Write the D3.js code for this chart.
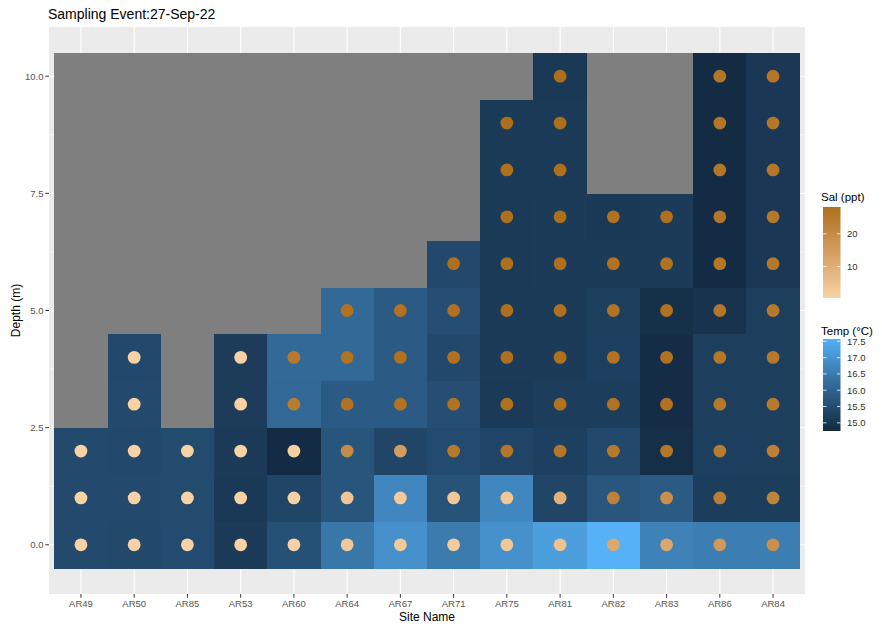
<!DOCTYPE html>
<html>
<head>
<meta charset="utf-8">
<script src="https://cdn.jsdelivr.net/npm/d3@7"></script>
<style>
  html, body { margin: 0; padding: 0; background: #ffffff; }
  svg { display: block; font-family: "Liberation Sans", Arial, Helvetica, sans-serif; }
</style>
</head>
<body>
<svg id="chart" width="882" height="628"></svg>
<script>
// ---- data ----
const sites = ["AR49","AR50","AR85","AR53","AR60","AR64","AR67","AR71","AR75","AR81","AR82","AR83","AR86","AR84"];
const yTicks = [0, 2.5, 5, 7.5, 10];
const yMinor = [1.25, 3.75, 6.25, 8.75];
const maxDepth = 10;

// Temperature (°C) by depth 0,1,2,... for each site
const temp_AR49 = [15.47, 15.47, 15.47];
const temp_AR50 = [15.42, 15.47, 15.44, 15.47, 15.45];
const temp_AR85 = [15.50, 15.48, 15.48];
const temp_AR53 = [15.12, 15.08, 15.12, 15.15, 15.15];
const temp_AR60 = [15.62, 15.36, 14.76, 16.12, 16.13];
const temp_AR64 = [16.42, 15.72, 15.70, 15.84, 16.13, 16.13];
const temp_AR67 = [16.94, 16.74, 15.35, 15.84, 15.84, 15.84];
const temp_AR71 = [16.50, 15.66, 15.50, 15.55, 15.45, 15.55, 15.45];
const temp_AR75 = [16.95, 16.76, 15.35, 15.11, 15.13, 15.13, 15.11, 15.11, 15.11, 15.11];
const temp_AR81 = [17.20, 15.36, 15.25, 15.18, 15.13, 15.13, 15.12, 15.12, 15.11, 15.11, 15.08];
const temp_AR82 = [17.57, 15.74, 15.45, 15.18, 15.23, 15.22, 15.12, 15.08];
const temp_AR83 = [16.64, 15.82, 14.84, 14.78, 14.78, 14.86, 15.13, 15.12];
const temp_AR86 = [16.56, 15.18, 15.23, 15.21, 15.21, 14.95, 14.76, 14.76, 14.76, 14.75, 14.75];
const temp_AR84 = [16.56, 15.18, 15.21, 15.21, 15.21, 15.21, 15.07, 15.07, 15.07, 15.07, 15.06];

// Salinity (ppt) by depth 0,1,2,... for each site
const sal_AR49 = [0.5, 0.5, 0.6];
const sal_AR50 = [0.5, 0.5, 0.6, 0.6, 0.7];
const sal_AR85 = [0.5, 0.5, 0.6];
const sal_AR53 = [0.4, 0.5, 0.5, 0.6, 0.6];
const sal_AR60 = [0.8, 0.9, 1.0, 24.5, 25.0];
const sal_AR64 = [3.2, 3.6, 20.0, 27.0, 27.2, 27.3];
const sal_AR67 = [2.4, 2.6, 15.0, 27.0, 27.4, 27.3];
const sal_AR71 = [2.3, 3.4, 25.0, 27.3, 27.5, 27.5, 27.8];
const sal_AR75 = [3.4, 3.4, 26.0, 27.6, 27.8, 27.8, 27.9, 28.0, 28.0, 28.1];
const sal_AR81 = [4.6, 9.4, 26.0, 27.3, 27.6, 27.7, 27.8, 27.9, 28.0, 28.1, 28.2];
const sal_AR82 = [11.8, 23.0, 25.0, 27.0, 27.2, 27.3, 27.3, 27.5];
const sal_AR83 = [12.0, 18.7, 26.2, 27.2, 27.4, 27.5, 27.5, 27.6];
const sal_AR86 = [16.0, 24.0, 24.5, 25.5, 25.8, 26.0, 26.2, 26.3, 26.4, 26.5, 26.5];
const sal_AR84 = [18.7, 22.5, 23.5, 25.0, 25.3, 25.5, 25.7, 25.9, 26.0, 26.1, 26.2];

const tempSeries = [temp_AR49, temp_AR50, temp_AR85, temp_AR53, temp_AR60, temp_AR64, temp_AR67,
                    temp_AR71, temp_AR75, temp_AR81, temp_AR82, temp_AR83, temp_AR86, temp_AR84];
const salSeries  = [sal_AR49, sal_AR50, sal_AR85, sal_AR53, sal_AR60, sal_AR64, sal_AR67,
                    sal_AR71, sal_AR75, sal_AR81, sal_AR82, sal_AR83, sal_AR86, sal_AR84];

// Long table: every site x depth 0..10 (NA where not sampled)
const rows = [];
sites.forEach((s, i) => {
  for (let d = 0; d <= maxDepth; d++) {
    rows.push({
      site: s, depth: d,
      temp: d < tempSeries[i].length ? tempSeries[i][d] : null,
      sal: d < salSeries[i].length ? salSeries[i][d] : null
    });
  }
});

// ---- layout ----
const svg = d3.select("#chart");
const panel = { left: 49, right: 805, top: 27, bottom: 594 };

const x = d3.scaleBand().domain(sites).range([panel.left, panel.right]).paddingInner(0).paddingOuter(0.1);
const y = d3.scaleLinear().domain([-1.05, 11.05]).range([panel.bottom, panel.top]);

const tempVals = rows.filter(r => r.temp != null).map(r => r.temp);
const salVals = rows.filter(r => r.sal != null).map(r => r.sal);
const tempColor = d3.scaleLinear().domain(d3.extent(tempVals)).range(["#132B43", "#56B1F7"]).interpolate(d3.interpolateLab);
const salColor = d3.scaleLinear().domain(d3.extent(salVals)).range(["#F8D2A5", "#AE6F1C"]).interpolate(d3.interpolateLab);

// panel background
svg.append("rect").attr("x", panel.left).attr("y", panel.top)
  .attr("width", panel.right - panel.left).attr("height", panel.bottom - panel.top)
  .attr("fill", "#ebebeb");

// grid
const grid = svg.append("g");
grid.selectAll("line.minor").data(yMinor).join("line")
  .attr("x1", panel.left).attr("x2", panel.right)
  .attr("y1", d => y(d)).attr("y2", d => y(d))
  .attr("stroke", "#ffffff").attr("stroke-width", 0.6);
grid.selectAll("line.majy").data(yTicks).join("line")
  .attr("x1", panel.left).attr("x2", panel.right)
  .attr("y1", d => y(d)).attr("y2", d => y(d))
  .attr("stroke", "#ffffff").attr("stroke-width", 1.1);
grid.selectAll("line.majx").data(sites).join("line")
  .attr("x1", d => x(d) + x.bandwidth() / 2).attr("x2", d => x(d) + x.bandwidth() / 2)
  .attr("y1", panel.top).attr("y2", panel.bottom)
  .attr("stroke", "#ffffff").attr("stroke-width", 1.1);

// tiles
svg.append("g").attr("shape-rendering", "crispEdges")
  .selectAll("rect").data(rows).join("rect")
  .attr("x", d => x(d.site))
  .attr("y", d => y(d.depth + 0.5))
  .attr("width", x.bandwidth() + 0.5)
  .attr("height", d => y(d.depth - 0.5) - y(d.depth + 0.5) + 0.5)
  .attr("fill", d => d.temp == null ? "#7f7f7f" : tempColor(d.temp));

// points
svg.append("g").selectAll("circle").data(rows.filter(r => r.sal != null)).join("circle")
  .attr("cx", d => x(d.site) + x.bandwidth() / 2)
  .attr("cy", d => y(d.depth))
  .attr("r", 6.4)
  .attr("fill", d => salColor(d.sal));

// axes
const tickColor = "#333333", labColor = "#555555";
const yAxis = svg.append("g");
yAxis.selectAll("line").data(yTicks).join("line")
  .attr("x1", panel.left - 3.7).attr("x2", panel.left)
  .attr("y1", d => y(d)).attr("y2", d => y(d))
  .attr("stroke", tickColor).attr("stroke-width", 1);
yAxis.selectAll("text").data(yTicks).join("text")
  .attr("x", panel.left - 5.5).attr("y", d => y(d)).attr("dy", "0.35em")
  .attr("text-anchor", "end").attr("font-size", 9.5).attr("fill", labColor)
  .text(d3.format(".1f"));

const xAxis = svg.append("g");
xAxis.selectAll("line").data(sites).join("line")
  .attr("x1", d => x(d) + x.bandwidth() / 2).attr("x2", d => x(d) + x.bandwidth() / 2)
  .attr("y1", panel.bottom).attr("y2", panel.bottom + 3.7)
  .attr("stroke", tickColor).attr("stroke-width", 1);
xAxis.selectAll("text").data(sites).join("text")
  .attr("x", d => x(d) + x.bandwidth() / 2).attr("y", panel.bottom + 13)
  .attr("text-anchor", "middle").attr("font-size", 9.5).attr("fill", labColor)
  .text(d => d);

// titles
svg.append("text").attr("x", 48).attr("y", 19).attr("font-size", 14).attr("fill", "#000")
  .text("Sampling Event:27-Sep-22");
svg.append("text").attr("x", (panel.left + panel.right) / 2).attr("y", 621)
  .attr("text-anchor", "middle").attr("font-size", 12).attr("fill", "#000").text("Site Name");
svg.append("text").attr("transform", `translate(19.5,${(panel.top + panel.bottom) / 2}) rotate(-90)`)
  .attr("text-anchor", "middle").attr("font-size", 12).attr("fill", "#000").text("Depth (m)");

// legends (colour bars)
const defs = svg.append("defs");
function colorbar(id, scale, title, titleY, barTop, barH, ticks, fmt) {
  const [lo, hi] = scale.domain();
  const grad = defs.append("linearGradient").attr("id", id)
    .attr("x1", 0).attr("y1", 1).attr("x2", 0).attr("y2", 0);
  d3.range(0, 1.0001, 0.05).forEach(t => {
    grad.append("stop").attr("offset", t).attr("stop-color", scale(lo + t * (hi - lo)));
  });
  const g = svg.append("g");
  const bx = 823, bw = 17.5;
  g.append("text").attr("x", 821).attr("y", titleY).attr("font-size", 11.5).attr("fill", "#000").text(title);
  g.append("rect").attr("x", bx).attr("y", barTop).attr("width", bw).attr("height", barH)
    .attr("fill", `url(#${id})`);
  const ly = d3.scaleLinear().domain([lo, hi]).range([barTop + barH, barTop]);
  g.selectAll("line.l").data(ticks).join("line")
    .attr("x1", bx).attr("x2", bx + 3.5).attr("y1", d => ly(d)).attr("y2", d => ly(d))
    .attr("stroke", "#ffffff").attr("stroke-width", 0.8);
  g.selectAll("line.r").data(ticks).join("line")
    .attr("x1", bx + bw - 3.5).attr("x2", bx + bw).attr("y1", d => ly(d)).attr("y2", d => ly(d))
    .attr("stroke", "#ffffff").attr("stroke-width", 0.8);
  g.selectAll("text.lab").data(ticks).join("text")
    .attr("x", 847).attr("y", d => ly(d)).attr("dy", "0.35em")
    .attr("font-size", 9.5).attr("fill", "#333").text(fmt);
}
const salTicks = [10, 20];
const tempTicks = [15.0, 15.5, 16.0, 16.5, 17.0, 17.5];
colorbar("salGrad", salColor, "Sal (ppt)", 201, 207, 91, salTicks, d3.format("d"));
colorbar("tempGrad", tempColor, "Temp (°C)", 335, 339, 92, tempTicks, d3.format(".1f"));
</script>
</body>
</html>
